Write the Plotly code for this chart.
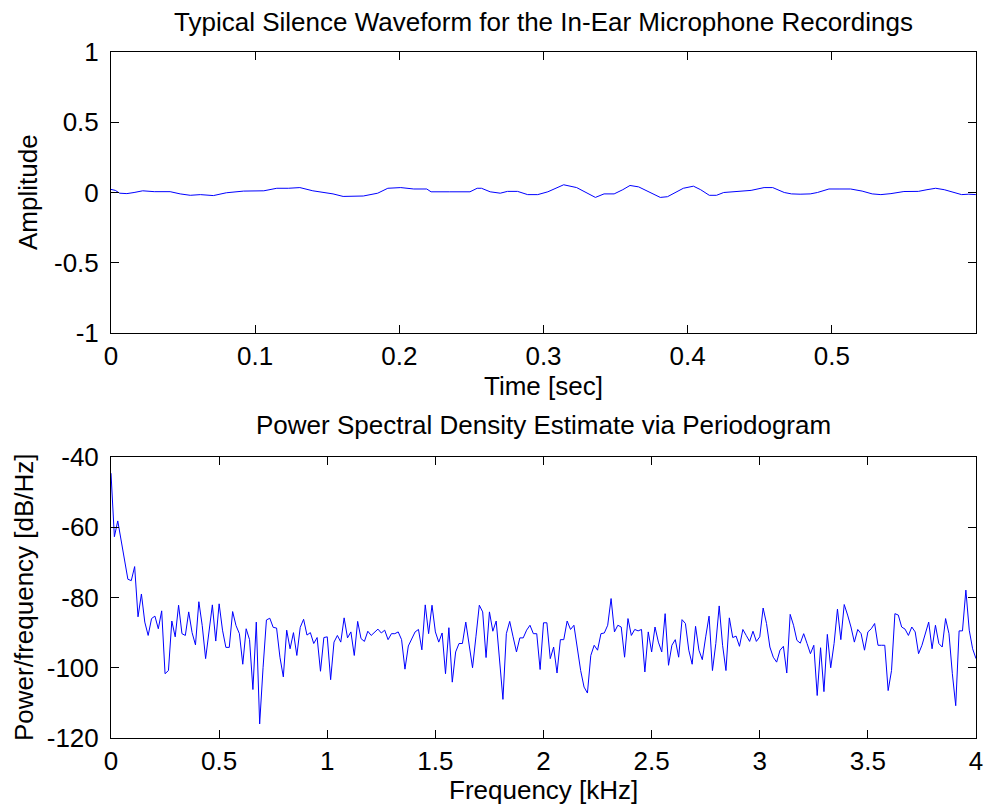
import numpy as np
import plotly.graph_objects as go

# ---------------- data ----------------
# Top: silence waveform (time in sec, amplitude)
wave_t = [0.000, 0.003, 0.006, 0.011, 0.016, 0.022, 0.030, 0.041, 0.048, 0.055, 0.062, 0.071,
          0.080, 0.092, 0.106, 0.115, 0.123, 0.131, 0.140, 0.154, 0.161, 0.168, 0.175, 0.185,
          0.192, 0.201, 0.210, 0.219, 0.222, 0.235, 0.249, 0.254, 0.257, 0.263, 0.270, 0.275,
          0.282, 0.289, 0.296, 0.303, 0.309, 0.314, 0.323, 0.330, 0.336, 0.342, 0.349, 0.355,
          0.360, 0.366, 0.374, 0.381, 0.386, 0.393, 0.397, 0.404, 0.409, 0.415, 0.420, 0.425,
          0.435, 0.444, 0.453, 0.459, 0.467, 0.472, 0.478, 0.485, 0.490, 0.498, 0.505, 0.513,
          0.521, 0.528, 0.534, 0.541, 0.550, 0.560, 0.566, 0.572, 0.578, 0.583, 0.590, 0.595,
          0.5999]
wave_amp = [0.022, 0.015, -0.005, -0.008, 0.000, 0.012, 0.006, 0.006, -0.010, -0.020, -0.015, -0.022,
            -0.002, 0.010, 0.012, 0.030, 0.030, 0.035, 0.012, -0.010, -0.028, -0.026, -0.025, -0.005,
            0.030, 0.035, 0.025, 0.025, 0.005, 0.005, 0.005, 0.030, 0.030, 0.005, -0.005, 0.008,
            0.008, -0.015, -0.015, 0.005, 0.030, 0.055, 0.035, 0.000, -0.035, -0.010, -0.010, 0.020,
            0.050, 0.040, 0.000, -0.035, -0.030, 0.005, 0.030, 0.045, 0.020, -0.020, -0.020, 0.000,
            0.010, 0.015, 0.035, 0.035, 0.000, -0.010, -0.012, -0.010, 0.000, 0.025, 0.025, 0.025,
            0.010, -0.010, -0.015, -0.008, 0.007, 0.008, 0.020, 0.030, 0.020, 0.005, -0.015, -0.012,
            -0.015]

# Bottom: periodogram PSD (dB/Hz), 257 bins from 0 to 4 kHz
psd_db = [
    # 0 - 0.98 kHz
    -44.6, -62.7, -58.2, -63.5, -69.0, -74.8, -75.2, -71.2, -85.5, -79.0, -87.0, -90.8, -86.0, -85.3, -88.9, -83.8,
    -101.7, -100.8, -86.7, -91.2, -82.2, -90.3, -90.8, -84.1, -90.0, -93.5, -81.2, -88.0, -97.4, -90.0, -82.1, -92.4,
    -81.8, -89.3, -94.2, -94.2, -84.0, -88.0, -90.3, -99.0, -88.9, -92.0, -106.2, -87.0, -116.0, -100.0, -86.4, -85.9,
    -88.5, -88.7, -97.0, -102.6, -89.3, -94.6, -90.0, -96.5, -88.5, -86.2, -90.7, -90.0, -93.1, -91.4, -101.0, -91.4,
    # 1 - 1.98 kHz
    -91.2, -103.4, -92.7, -90.8, -92.7, -85.8, -91.5, -89.8, -96.5, -86.8, -91.7, -92.5, -89.6, -90.8, -90.0, -89.0,
    -90.1, -89.3, -92.0, -90.3, -90.3, -89.8, -92.0, -100.4, -93.8, -91.7, -89.8, -89.1, -94.9, -82.1, -90.3, -82.2,
    -89.8, -92.7, -90.1, -101.7, -88.6, -104.1, -95.5, -93.1, -93.1, -87.0, -93.0, -100.0, -91.2, -82.2, -84.1, -97.1,
    -84.1, -89.6, -86.7, -98.9, -109.0, -90.3, -86.8, -91.2, -95.5, -91.5, -91.5, -89.3, -87.9, -90.3, -90.3, -100.5,
    # 2 - 2.98 kHz
    -87.2, -87.2, -97.4, -94.1, -101.5, -92.0, -92.0, -86.7, -89.1, -87.9, -95.0, -100.8, -105.5, -107.2, -96.5, -93.6,
    -95.0, -90.3, -90.1, -87.9, -80.3, -89.8, -87.9, -88.4, -97.0, -86.0, -90.8, -89.1, -89.5, -89.1, -101.2, -89.8,
    -95.5, -88.4, -92.7, -95.5, -84.6, -99.3, -93.6, -92.0, -97.0, -86.3, -87.4, -95.0, -99.0, -88.2, -95.0, -97.7,
    -91.2, -85.3, -100.8, -93.1, -82.4, -93.6, -100.8, -85.8, -91.4, -91.0, -93.9, -89.1, -90.8, -92.5, -89.6, -92.5,
    # 3 - 4 kHz
    -91.2, -83.0, -87.4, -94.1, -97.0, -98.4, -95.0, -93.9, -101.5, -84.8, -87.9, -92.2, -93.0, -90.3, -93.1, -96.0,
    -93.6, -107.9, -94.3, -106.8, -90.5, -100.0, -93.1, -83.3, -92.0, -82.0, -85.0, -88.4, -92.7, -89.1, -90.3, -95.0,
    -89.8, -88.9, -87.4, -93.6, -93.6, -93.6, -106.5, -100.8, -84.6, -85.0, -88.4, -89.0, -90.8, -88.4, -89.8, -96.0,
    -93.6, -90.3, -87.0, -94.6, -87.9, -93.1, -94.1, -86.0, -90.3, -101.7, -110.8, -89.5, -89.5, -77.9, -89.3, -94.6,
    -97.4,
]
psd_freq_khz = np.linspace(0, 4, len(psd_db))

top_xticks = [0, 0.1, 0.2, 0.3, 0.4, 0.5]
top_xtext = ["0", "0.1", "0.2", "0.3", "0.4", "0.5"]
top_yticks = [-1, -0.5, 0, 0.5, 1]
top_ytext = ["-1", "-0.5", "0", "0.5", "1"]
bot_xticks = [0, 0.5, 1, 1.5, 2, 2.5, 3, 3.5, 4]
bot_xtext = ["0", "0.5", "1", "1.5", "2", "2.5", "3", "3.5", "4"]
bot_yticks = [-120, -100, -80, -60, -40]
bot_ytext = ["-120", "-100", "-80", "-60", "-40"]

title_top = "Typical Silence Waveform for the In-Ear Microphone Recordings"
title_bot = "Power Spectral Density Estimate via Periodogram"

# ---------------- figure ----------------
W, H = 989, 807
L, R, T, B = 111, 13, 52, 69
PW, PH = W - L - R, H - T - B
FONT = "Liberation Sans, Arial, Helvetica, sans-serif"
FS = 26


def fy(py):
    return (H - B - py) / PH


def fx(px):
    return (px - L) / PW


fig = go.Figure()
fig.add_trace(go.Scatter(x=wave_t, y=wave_amp, mode="lines",
                         line=dict(color="#0000FF", width=1), xaxis="x", yaxis="y",
                         showlegend=False))
fig.add_trace(go.Scatter(x=psd_freq_khz, y=psd_db, mode="lines",
                         line=dict(color="#0000FF", width=1), xaxis="x2", yaxis="y2",
                         showlegend=False))

axis_common = dict(showline=True, linecolor="black", linewidth=1, mirror="ticks",
                   ticks="inside", ticklen=8, tickcolor="black", tickwidth=1,
                   showgrid=False, zeroline=False, automargin=False,
                   tickfont=dict(family=FONT, size=FS, color="black"))

fig.update_layout(
    width=W, height=H,
    margin=dict(l=L, r=R, t=T, b=B, pad=0, autoexpand=False),
    paper_bgcolor="white", plot_bgcolor="white",
    font=dict(family=FONT, size=FS, color="black"),
    xaxis=dict(domain=[0, 1], anchor="y", range=[0, 0.6], tickmode="array",
               tickvals=top_xticks, ticktext=top_xtext, ticklabelstandoff=0, **axis_common),
    yaxis=dict(domain=[fy(333), 1], anchor="x", range=[-1, 1], tickmode="array",
               tickvals=top_yticks, ticktext=top_ytext, ticklabelstandoff=6, **axis_common),
    xaxis2=dict(domain=[0, 1], anchor="y2", range=[0, 4], tickmode="array",
                tickvals=bot_xticks, ticktext=bot_xtext, ticklabelstandoff=0, **axis_common),
    yaxis2=dict(domain=[0, fy(457)], anchor="x2", range=[-120, -40], tickmode="array",
                tickvals=bot_yticks, ticktext=bot_ytext, ticklabelstandoff=6, **axis_common),
)

ann = dict(xref="paper", yref="paper", showarrow=False,
           font=dict(family=FONT, size=FS, color="black"))
fig.add_annotation(text=title_top, x=fx(543), y=fy(22), xanchor="center", yanchor="middle", **ann)
fig.add_annotation(text=title_bot, x=fx(543), y=fy(425), xanchor="center", yanchor="middle", **ann)
fig.add_annotation(text="Time [sec]", x=fx(543), y=fy(386), xanchor="center", yanchor="middle", **ann)
fig.add_annotation(text="Frequency [kHz]", x=fx(543), y=fy(790), xanchor="center", yanchor="middle", **ann)
fig.add_annotation(text="Amplitude", x=fx(28), y=fy(192), xanchor="center", yanchor="middle",
                   textangle=-90, **ann)
fig.add_annotation(text="Power/frequency [dB/Hz]", x=fx(24), y=fy(597), xanchor="center",
                   yanchor="middle", textangle=-90, **ann)

fig.write_html("out.html")
